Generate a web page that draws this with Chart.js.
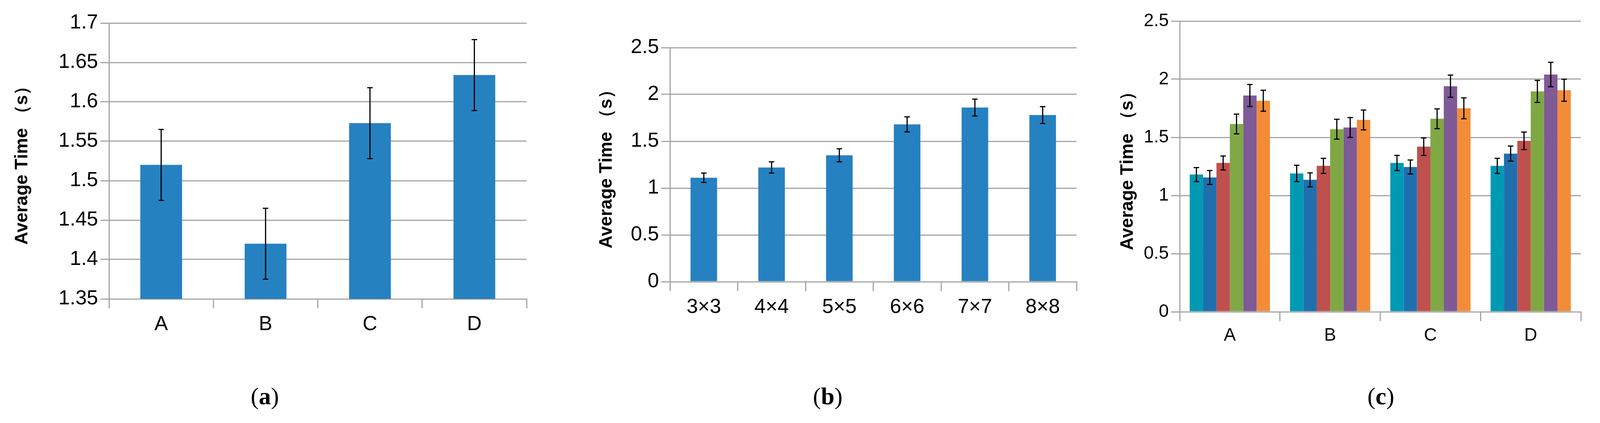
<!DOCTYPE html>
<html>
<head>
<meta charset="utf-8">
<script src="https://cdn.jsdelivr.net/npm/chart.js@4"></script>
<style>
  body { margin: 0; background: #fff; width: 4305px; height: 1084px; position: relative; overflow: hidden; }
  canvas { position: absolute; }
  .cap { position: absolute; top: 980px; font-family: "Liberation Serif", "DejaVu Serif", serif; font-size: 62px; transform: translateX(-50%); }
  #legendC { position: absolute; left: 4098px; top: 228px; font-family: "Liberation Sans Narrow", "Liberation Sans", sans-serif; font-size: 52px; }
  #legendC div { height: 84px; display: flex; align-items: center; }
  #legendC span { display: inline-block; width: 36px; height: 36px; margin-right: 14px; }
</style>
</head>
<body>
<canvas id="chartA" style="left:0;top:0"></canvas>
<canvas id="chartB" style="left:1450px;top:0"></canvas>
<canvas id="chartC" style="left:2830px;top:0"></canvas>
<div id="legendC"></div>
<div class="cap" style="left:678px">(<b>a</b>)</div>
<div class="cap" style="left:2119px">(<b>b</b>)</div>
<div class="cap" style="left:3535px">(<b>c</b>)</div>
<script>
// 数据
const groupLabels = ['A', 'B', 'C', 'D'];
const groupMeans = [1.52, 1.42, 1.573, 1.634];
const groupErrors = [0.045, 0.045, 0.045, 0.045];

const sizeLabels = ['3×3', '4×4', '5×5', '6×6', '7×7', '8×8'];
const sizeMeans = [1.11, 1.22, 1.35, 1.68, 1.86, 1.78];
const sizeErrors = [0.05, 0.06, 0.07, 0.08, 0.09, 0.09];

// 分组数据：每个尺寸在 A-D 上的值
const size3 = [1.18, 1.19, 1.28, 1.255];
const size4 = [1.155, 1.135, 1.245, 1.36];
const size5 = [1.28, 1.255, 1.42, 1.47];
const size6 = [1.615, 1.57, 1.66, 1.895];
const size7 = [1.86, 1.585, 1.94, 2.04];
const size8 = [1.815, 1.65, 1.75, 1.905];
const err3 = [0.06, 0.07, 0.065, 0.065];
const err4 = [0.06, 0.06, 0.06, 0.065];
const err5 = [0.06, 0.065, 0.075, 0.075];
const err6 = [0.085, 0.085, 0.085, 0.095];
const err7 = [0.095, 0.085, 0.095, 0.105];
const err8 = [0.09, 0.085, 0.09, 0.095];

const BLUE = '#2681c1';
const GRID = '#a6a6a6';
const TICK_FONT = { family: '"Liberation Sans Narrow", "Liberation Sans", sans-serif', size: 52 };
const TITLE_FONT = { family: '"Liberation Sans", "DejaVu Sans", sans-serif', size: 46, weight: 'bold' };

/**
 * 误差线插件
 */
const errorBars = {
    id: 'errorBars',
    afterDatasetsDraw(chart) {
        const ctx = chart.ctx;
        const y = chart.scales.y;
        ctx.save();
        ctx.strokeStyle = '#000';
        ctx.lineWidth = 3;
        chart.data.datasets.forEach((ds, di) => {
            const meta = chart.getDatasetMeta(di);
            meta.data.forEach((bar, i) => {
                const v = ds.data[i], e = ds.errors[i];
                const top = y.getPixelForValue(v + e);
                const bot = y.getPixelForValue(v - e);
                ctx.beginPath();
                ctx.moveTo(bar.x, top); ctx.lineTo(bar.x, bot);
                ctx.moveTo(bar.x - 7, top); ctx.lineTo(bar.x + 7, top);
                ctx.moveTo(bar.x - 7, bot); ctx.lineTo(bar.x + 7, bot);
                ctx.stroke();
            });
        });
        ctx.restore();
    }
};

function makeScales(yMin, yMax, step, yWidth, xHeight, tickFont) {
    return {
        x: {
            grid: { offset: true, drawOnChartArea: false, color: GRID, lineWidth: 3, tickLength: 24 },
            border: { color: GRID, width: 3 },
            ticks: { font: tickFont, color: '#000', padding: 10 },
            afterFit: s => { s.height = xHeight; }
        },
        y: {
            min: yMin, max: yMax,
            grid: { color: GRID, lineWidth: 3, tickLength: 22 },
            border: { color: GRID, width: 3 },
            ticks: { stepSize: step, font: tickFont, color: '#000', padding: 6, callback: v => String(Math.round(v * 100) / 100) },
            title: { display: true, text: 'Average Time （s）', font: TITLE_FONT, color: '#000', padding: 0 },
            afterFit: s => { s.width = yWidth; }
        }
    };
}

function setup(id, w, h) {
    const c = document.getElementById(id);
    c.width = w; c.height = h;
    c.style.width = w + 'px'; c.style.height = h + 'px';
    return c;
}

// (a)
new Chart(setup('chartA', 1370, 900), {
    type: 'bar',
    data: { labels: groupLabels, datasets: [{ data: groupMeans, errors: groupErrors, backgroundColor: BLUE, barPercentage: 0.8, categoryPercentage: 0.5 }] },
    options: {
        responsive: false, animation: false,
        devicePixelRatio: 1,
        layout: { padding: { top: 59, right: 22, left: 30 } },
        plugins: { legend: { display: false }, tooltip: { enabled: false } },
        scales: makeScales(1.35, 1.7, 0.05, 249, 134, TICK_FONT)
    },
    plugins: [errorBars]
});

// (b)
new Chart(setup('chartB', 1330, 900), {
    type: 'bar',
    data: { labels: sizeLabels, datasets: [{ data: sizeMeans, errors: sizeErrors, backgroundColor: BLUE, barPercentage: 0.8, categoryPercentage: 0.49 }] },
    options: {
        responsive: false, animation: false,
        devicePixelRatio: 1,
        layout: { padding: { top: 122, right: 24, left: 76 } },
        plugins: { legend: { display: false }, tooltip: { enabled: false } },
        scales: makeScales(0, 2.5, 0.5, 189, 178, TICK_FONT)
    },
    plugins: [errorBars]
});

// (c)
const cColors = ['#0099b4', '#1f6fae', '#c0504d', '#7fa845', '#7f5a96', '#f28c38'];
const cValues = [size3, size4, size5, size6, size7, size8];
const cErrors = [err3, err4, err5, err6, err7, err8];
new Chart(setup('chartC', 1475, 900), {
    type: 'bar',
    data: {
        labels: groupLabels,
        datasets: sizeLabels.map((lab, i) => ({
            label: lab, data: cValues[i], errors: cErrors[i], backgroundColor: cColors[i],
            barPercentage: 1, categoryPercentage: 0.8
        }))
    },
    options: {
        responsive: false, animation: false,
        devicePixelRatio: 1,
        layout: { padding: { top: 54, right: 258, left: 30 } },
        plugins: { legend: { display: false }, tooltip: { enabled: false } },
        scales: makeScales(0, 2.5, 0.5, 160, 101, { family: TICK_FONT.family, size: 46 })
    },
    plugins: [errorBars]
});

// 图例
document.getElementById('legendC').innerHTML = sizeLabels.map((lab, i) =>
    `<div><span style="background:${cColors[i]}"></span>${lab}</div>`).join('');
</script>
</body>
</html>
